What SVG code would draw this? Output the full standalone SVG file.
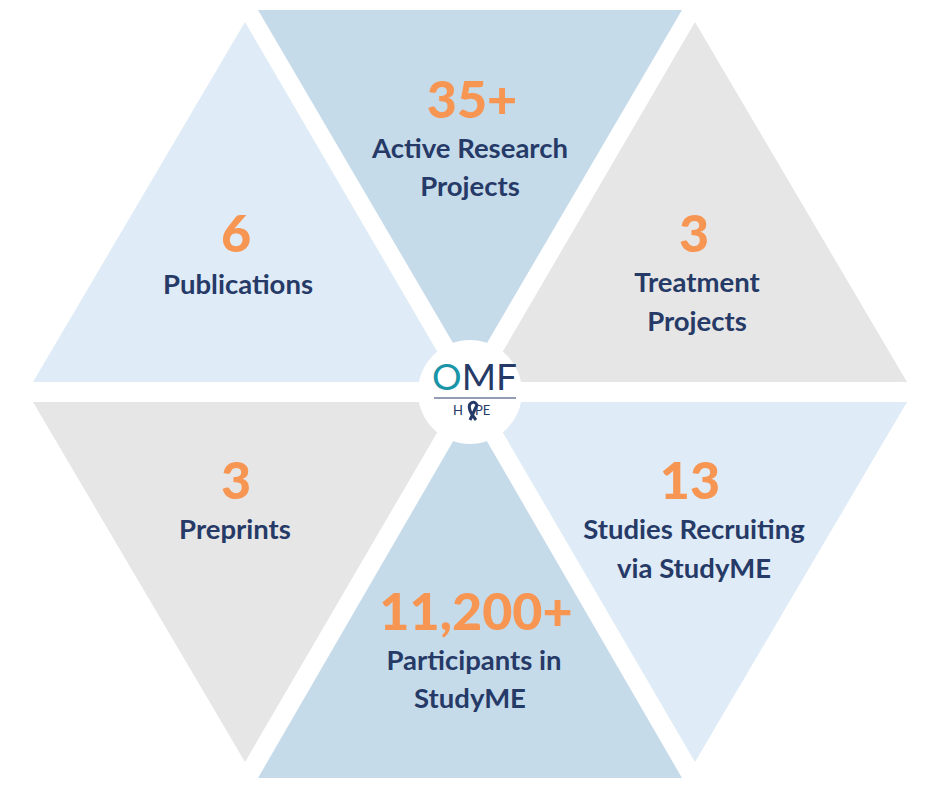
<svg xmlns="http://www.w3.org/2000/svg" width="940" height="788" viewBox="0 0 940 788">
<style>
.n{font-family:Lato,"Liberation Sans",sans-serif;font-weight:900;fill:#f79552;text-anchor:middle;font-size:52px}
.l{font-family:Lato,"Liberation Sans",sans-serif;font-weight:700;fill:#263a67;text-anchor:middle;font-size:27.5px}
</style>
<rect width="940" height="788" fill="#fff"/>
<g id="top"><polygon points="258,10 682,10 470,372" fill="#c6dbea"/><text class="n" x="472" y="118">35+</text><text class="l" x="470" y="158">Active Research</text><text class="l" x="470" y="196">Projects</text></g>
<g id="topleft"><polygon points="245,22 33,382 455,382" fill="#dfebf6"/><text class="n" x="236" y="252">6</text><text class="l" x="238" y="294">Publications</text></g>
<g id="topright"><polygon points="695,22 485,382 907,382" fill="#e6e6e6"/><text class="n" x="694" y="252">3</text><text class="l" x="697" y="292">Treatment</text><text class="l" x="697" y="331">Projects</text></g>
<g id="botleft"><polygon points="33,402 455,402 245,762" fill="#e6e6e6"/><text class="n" x="236" y="499">3</text><text class="l" x="235" y="539">Preprints</text></g>
<g id="botright"><polygon points="485,402 907,402 695,762" fill="#dfebf6"/><text class="n" x="690" y="499">13</text><text class="l" x="694" y="539">Studies Recruiting</text><text class="l" x="694" y="578">via StudyME</text></g>
<g id="bottom"><polygon points="470,412 258,778 682,778" fill="#c6dbea"/><text class="n" x="476" y="630">11,200+</text><text class="l" x="474" y="670">Participants in</text><text class="l" x="470" y="708">StudyME</text></g>
<g id="logo"><circle cx="470" cy="392" r="52" fill="#fff"/>
<text x="432" y="390" font-family="Lato,'Liberation Sans',sans-serif" font-size="37" fill="#263a67"><tspan fill="#1a95a8">O</tspan>MF</text>
<line x1="434" y1="398" x2="516" y2="398" stroke="#263a67" stroke-width="1.2"/>
<text x="453" y="415" font-family="Lato,'Liberation Sans',sans-serif" font-size="13" fill="#263a67">H<tspan dx="12">PE</tspan></text>
<path d="M470,420 L477,405 Q474,400 470,404 Q467,409 476,420" fill="none" stroke="#263a67" stroke-width="3"/>
</g>
<g id="connectors"/>
</svg>
